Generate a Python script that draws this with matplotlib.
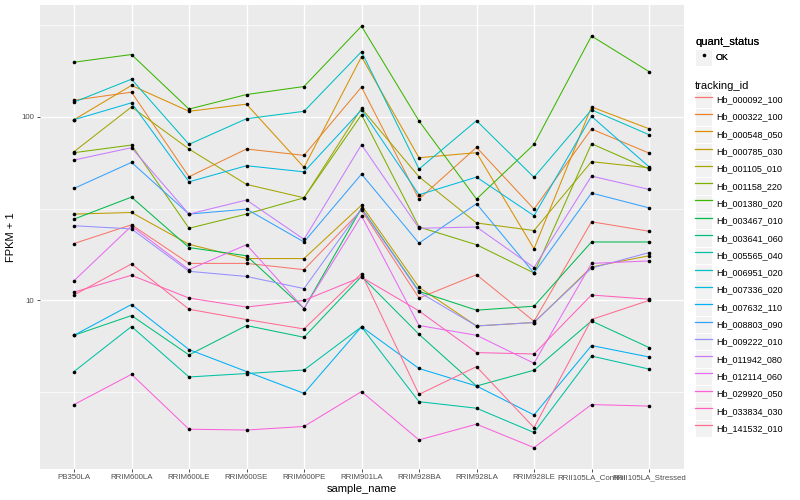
import matplotlib
matplotlib.use("Agg")
import matplotlib.pyplot as plt
import numpy as np
from matplotlib.lines import Line2D
from matplotlib.patches import Rectangle
from matplotlib.legend_handler import HandlerLine2D
from matplotlib.ticker import FixedLocator, FixedFormatter, NullFormatter

plt.rcParams['font.family'] = ['Liberation Sans', 'DejaVu Sans']

sample_names = ['PB350LA', 'RRIM600LA', 'RRIM600LE', 'RRIM600SE', 'RRIM600PE',
                'RRIM901LA', 'RRIM928BA', 'RRIM928LA', 'RRIM928LE',
                'RRII105LA_Control', 'RRII105LA_Stressed']

tracking_ids = ['Hb_000092_100', 'Hb_000322_100', 'Hb_000548_050', 'Hb_000785_030',
                'Hb_001105_010', 'Hb_001158_220', 'Hb_001380_020', 'Hb_003467_010',
                'Hb_003641_060', 'Hb_005565_040', 'Hb_006951_020', 'Hb_007336_020',
                'Hb_007632_110', 'Hb_008803_090', 'Hb_009222_010', 'Hb_011942_080',
                'Hb_012114_060', 'Hb_029920_050', 'Hb_033834_030', 'Hb_141532_010']

# FPKM + 1 values per tracking_id, in sample_names order
hb_000092_100 = [20.4, 25.8, 15.9, 15.9, 14.7, 31.0, 10.3, 13.8, 7.70, 26.8, 23.8]
hb_000322_100 = [123, 136, 47.1, 66.7, 61.6, 145, 35.6, 68.1, 31.4, 85.7, 63.4]
hb_000548_050 = [96.3, 148, 107, 117, 53.0, 212, 59.8, 63.7, 19.1, 113, 86.0]
hb_000785_030 = [29.5, 30.1, 20.2, 16.9, 16.9, 33.0, 11.8, 7.26, 7.58, 15.2, 17.5]
hb_001105_010 = [64.5, 113, 66.7, 42.8, 36.2, 111, 47.1, 26.4, 24.0, 56.9, 52.7]
hb_001158_220 = [63.7, 70.1, 24.7, 29.5, 36.2, 102.5, 25.1, 20.1, 14.1, 71.3, 51.9]
hb_001380_020 = [198, 218, 110, 132, 146, 311, 94.8, 35.6, 70.7, 275, 176]
hb_003467_010 = [27.7, 36.5, 19.4, 17.5, 9.03, 31.8, 11.2, 8.85, 9.3, 20.8, 20.8]
hb_003641_060 = [6.46, 8.27, 5.05, 7.30, 6.30, 13.5, 6.54, 3.42, 4.17, 7.73, 5.54]
hb_005565_040 = [4.10, 7.21, 3.83, 4.00, 4.18, 7.18, 2.81, 2.59, 1.91, 4.98, 4.23]
hb_006951_020 = [120, 160, 70.7, 97.5, 107, 226, 51.9, 95.1, 46.8, 109, 79.8]
hb_007336_020 = [96.3, 119, 44.2, 54.1, 50.1, 109, 37.6, 46.9, 28.9, 100.5, 53.4]
hb_007632_110 = [6.46, 9.5, 5.40, 4.10, 3.12, 7.18, 4.26, 3.42, 2.38, 5.68, 4.92]
hb_008803_090 = [40.7, 56.4, 29.5, 31.4, 20.8, 48.7, 20.5, 33.6, 14.1, 38.4, 31.9]
hb_009222_010 = [25.5, 24.5, 14.4, 13.5, 11.6, 31.6, 11.1, 7.26, 7.58, 15.0, 18.2]
hb_011942_080 = [58.1, 67.8, 29.5, 35.2, 21.5, 70.4, 24.7, 25.1, 15.1, 47.5, 40.2]
hb_012114_060 = [12.8, 25.4, 14.7, 20.1, 9.03, 28.9, 7.30, 6.46, 4.55, 15.9, 16.4]
hb_029920_050 = [2.71, 3.96, 1.99, 1.97, 2.06, 3.19, 1.74, 2.12, 1.58, 2.71, 2.66]
hb_033834_030 = [11.1, 13.7, 10.3, 9.2, 10.0, 13.4, 8.77, 5.20, 5.11, 10.7, 10.15]
hb_141532_010 = [10.7, 15.8, 8.95, 7.87, 6.99, 14.0, 3.08, 4.36, 2.03, 7.87, 10.0]

series_values = [hb_000092_100, hb_000322_100, hb_000548_050, hb_000785_030,
                 hb_001105_010, hb_001158_220, hb_001380_020, hb_003467_010,
                 hb_003641_060, hb_005565_040, hb_006951_020, hb_007336_020,
                 hb_007632_110, hb_008803_090, hb_009222_010, hb_011942_080,
                 hb_012114_060, hb_029920_050, hb_033834_030, hb_141532_010]

colors = ['#F8766D', '#EA8331', '#D89000', '#C09B00', '#A3A500', '#7CAE00', '#39B600',
          '#00BB4E', '#00BF7D', '#00C1A3', '#00BFC4', '#00BAE0', '#00B0F6', '#35A2FF',
          '#9590FF', '#C77CFF', '#E76BF3', '#FA62DB', '#FF62BC', '#FF6C91']

W, H = 800, 500
fig = plt.figure(figsize=(8, 5), dpi=100)

# y limits: ggplot-like 5% expansion in log space
allv = np.concatenate([np.asarray(v, float) for v in series_values])
lo, hi = np.log10(allv.min()), np.log10(allv.max())
pad = 0.05 * (hi - lo)
ylo, yhi = 10 ** (lo - pad), 10 ** (hi + pad)

ax = fig.add_axes([39.5 / W, (H - 468.7) / H, 644 / W, 463.6 / H])
ax.set_facecolor('#EBEBEB')
for s in ax.spines.values():
    s.set_visible(False)

x = np.arange(len(sample_names))
for vals, c in zip(series_values, colors):
    ax.plot(x, vals, color=c, lw=0.75, zorder=2, solid_capstyle='butt')
for vals in series_values:
    ax.plot(x, vals, linestyle='none', marker='o', ms=2.6, color='black',
            mec='black', mew=0, zorder=3)

ax.set_yscale('log')
ax.set_ylim(ylo, yhi)
ax.set_xlim(-0.6, len(sample_names) - 1 + 0.6)
ax.yaxis.set_major_locator(FixedLocator([10, 100]))
ax.yaxis.set_major_formatter(FixedFormatter(['10', '100']))
ax.yaxis.set_minor_locator(FixedLocator([10 ** 0.5, 10 ** 1.5, 10 ** 2.5]))
ax.yaxis.set_minor_formatter(NullFormatter())
ax.set_xticks(x)
ax.set_xticklabels(sample_names)

ax.grid(which='major', color='white', lw=1.0, zorder=0)
ax.grid(which='minor', axis='y', color='white', lw=0.5, zorder=0)
ax.set_axisbelow(True)

ax.tick_params(axis='both', which='major', length=2.2, width=0.6, color='#333333',
               labelcolor='#4D4D4D', labelsize=5.7, pad=1.5)
ax.tick_params(axis='y', which='minor', length=0)

ax.set_xlabel('sample_name', fontsize=8, labelpad=2)
ax.set_ylabel('FPKM + 1', fontsize=8, labelpad=4)


class BoxedHandler(HandlerLine2D):
    def create_artists(self, legend, orig_handle, xdescent, ydescent, width, height,
                       fontsize, trans):
        rect = Rectangle((-xdescent, -ydescent), width, height, facecolor='#F2F2F2',
                         edgecolor='white', linewidth=0.8, transform=trans)
        arts = super().create_artists(legend, orig_handle, xdescent, ydescent, width,
                                      height, fontsize, trans)
        return [rect] + list(arts)


fs = 6.5
fspx = fs * 100 / 72.0
key_w = 17.3 / fspx
# matplotlib row height = fs*(0.65*hh + 0.245); solve for a 17.3 px row
key_h = (17.3 / fspx - 0.245) / 0.65

h1 = [Line2D([], [], linestyle='none', marker='o', ms=2.6, color='black', mew=0)]
leg1 = fig.legend(h1, ['OK'], title='quant_status', loc='upper left',
                  bbox_to_anchor=(695 / W, 1 - 37 / H), frameon=False, fontsize=fs,
                  title_fontsize=8, handlelength=key_w, handleheight=key_h,
                  handletextpad=0.4, labelspacing=0, borderpad=0, borderaxespad=0,
                  alignment='left', numpoints=1, handler_map={Line2D: BoxedHandler()})
leg1._legend_box.sep = 1.4

h2 = [Line2D([], [], color=c, lw=0.9) for c in colors]
leg2 = fig.legend(h2, tracking_ids, title='tracking_id', loc='upper left',
                  bbox_to_anchor=(695 / W, 1 - 81 / H), frameon=False, fontsize=fs,
                  title_fontsize=8, handlelength=key_w, handleheight=key_h,
                  handletextpad=0.4, labelspacing=0, borderpad=0, borderaxespad=0,
                  alignment='left', handler_map={Line2D: BoxedHandler()})
fig.add_artist(leg1)

fig.savefig('out.png', dpi=100)
